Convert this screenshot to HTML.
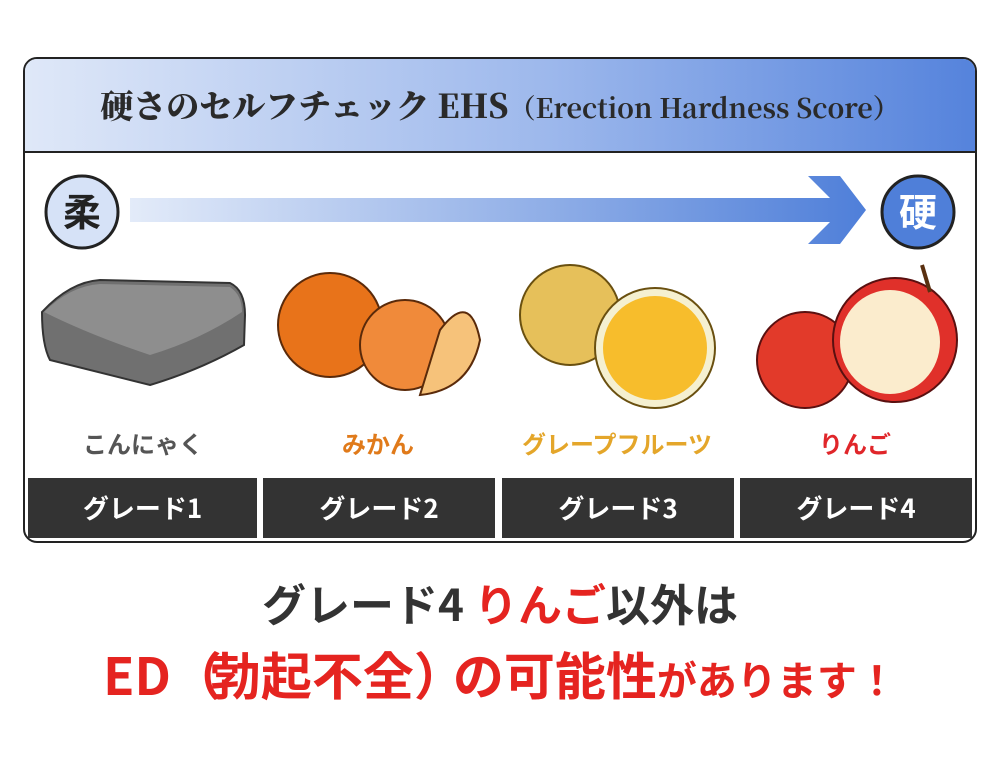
<!DOCTYPE html>
<html><head><meta charset="utf-8">
<style>
body{margin:0;background:#fff;width:1000px;height:760px;position:relative;overflow:hidden;font-family:"Liberation Sans","Noto Sans CJK JP",sans-serif;}
.box{position:absolute;left:23px;top:57px;width:950px;height:482px;border:2.5px solid #222;border-radius:14px;overflow:hidden;background:#fff}
.hdr{position:absolute;left:0;top:0;width:100%;height:92px;background:linear-gradient(90deg,#dfe8f8,#9db8ec 55%,#5583dc);border-bottom:2.5px solid #222;font-family:"Noto Serif CJK SC","Liberation Serif",serif;font-weight:900;font-size:33px;color:#2a2a2a;text-align:center;line-height:92px;white-space:nowrap}
.hdr small{font-size:27px;font-weight:bold}
.lab{position:absolute;top:425px;font-weight:bold;font-size:24px;text-align:center;width:230px;font-family:"Noto Sans CJK JP",sans-serif}
.gr{position:absolute;top:478px;height:60px;background:#333;color:#fff;font-weight:bold;font-size:26px;text-align:center;line-height:60px;font-family:"Noto Sans CJK JP",sans-serif}
.t1{position:absolute;top:570px;left:0;width:1000px;text-align:center;font-size:44px;font-weight:bold;color:#333;font-family:"Noto Sans CJK JP",sans-serif}
.t2{position:absolute;top:636px;left:0;width:1000px;text-align:center;font-size:51px;font-weight:bold;color:#e52420;font-family:"Noto Sans CJK JP",sans-serif;white-space:nowrap}
</style></head><body>
<div class="box"><div class="hdr">硬さのセルフチェック EHS<small>（Erection Hardness Score）</small></div></div>
<svg style="position:absolute;left:0;top:0" width="1000" height="480">
<defs><linearGradient id="ag" x1="0" x2="1"><stop offset="0" stop-color="#e3ebf9"/><stop offset="1" stop-color="#4f7fd9"/></linearGradient></defs>
<polygon points="130,198 830,198 808,176 840,176 866,210 840,244 808,244 830,222 130,222" fill="url(#ag)"/>
<circle cx="82" cy="212" r="36" fill="#d6e2f7" stroke="#222" stroke-width="3"/>
<text x="82" y="226" text-anchor="middle" font-size="38" font-weight="bold" fill="#222" font-family="Noto Sans CJK JP">柔</text>
<circle cx="918" cy="212" r="36" fill="#4f7fd9" stroke="#222" stroke-width="3"/>
<text x="918" y="226" text-anchor="middle" font-size="38" font-weight="bold" fill="#fff" font-family="Noto Sans CJK JP">硬</text>
<path d="M42,312 Q70,282 100,280 L230,283 Q245,290 245,315 L244,345 Q200,370 150,385 L50,360 Q42,345 42,312 Z" fill="#707070" stroke="#333" stroke-width="2"/>
<path d="M44,312 Q70,286 100,284 L230,287 Q242,295 242,312 Q200,340 150,355 Q90,335 44,312 Z" fill="#8e8e8e"/>
<circle cx="330" cy="325" r="52" fill="#e8731a" stroke="#5a2a0a" stroke-width="2"/>
<circle cx="405" cy="345" r="45" fill="#f08a3a" stroke="#5a2a0a" stroke-width="2"/>
<path d="M440,330 Q470,290 480,340 Q470,390 420,395 Z" fill="#f6c27a" stroke="#5a2a0a" stroke-width="2"/>
<circle cx="570" cy="315" r="50" fill="#e6c05a" stroke="#6a5010" stroke-width="2"/>
<circle cx="655" cy="348" r="60" fill="#f5f0d0" stroke="#6a5010" stroke-width="2"/>
<circle cx="655" cy="348" r="52" fill="#f7bd2c"/>
<circle cx="805" cy="360" r="48" fill="#e23a2a" stroke="#5a1010" stroke-width="2"/>
<circle cx="895" cy="340" r="62" fill="#e0302a" stroke="#5a1010" stroke-width="2"/>
<ellipse cx="890" cy="342" rx="50" ry="52" fill="#fbeccd"/>
<line x1="922" y1="265" x2="930" y2="292" stroke="#5a3010" stroke-width="4"/>
</svg>
<div class="lab" style="left:28px;color:#555">こんにゃく</div>
<div class="lab" style="left:263px;color:#e07a1a">みかん</div>
<div class="lab" style="left:502px;color:#e4a62a">グレープフルーツ</div>
<div class="lab" style="left:740px;color:#e0262a">りんご</div>
<div class="gr" style="left:28px;width:229px">グレード1</div>
<div class="gr" style="left:263px;width:232px">グレード2</div>
<div class="gr" style="left:502px;width:232px">グレード3</div>
<div class="gr" style="left:740px;width:232px">グレード4</div>
<div class="t1">グレード4 <span style="color:#e52420">りんご</span>以外は</div>
<div class="t2">ED<span style="letter-spacing:-12px">（</span>勃起不全<span style="letter-spacing:-12px">）</span>の可能性<span style="font-size:40px">があります！</span></div>
</body></html>
